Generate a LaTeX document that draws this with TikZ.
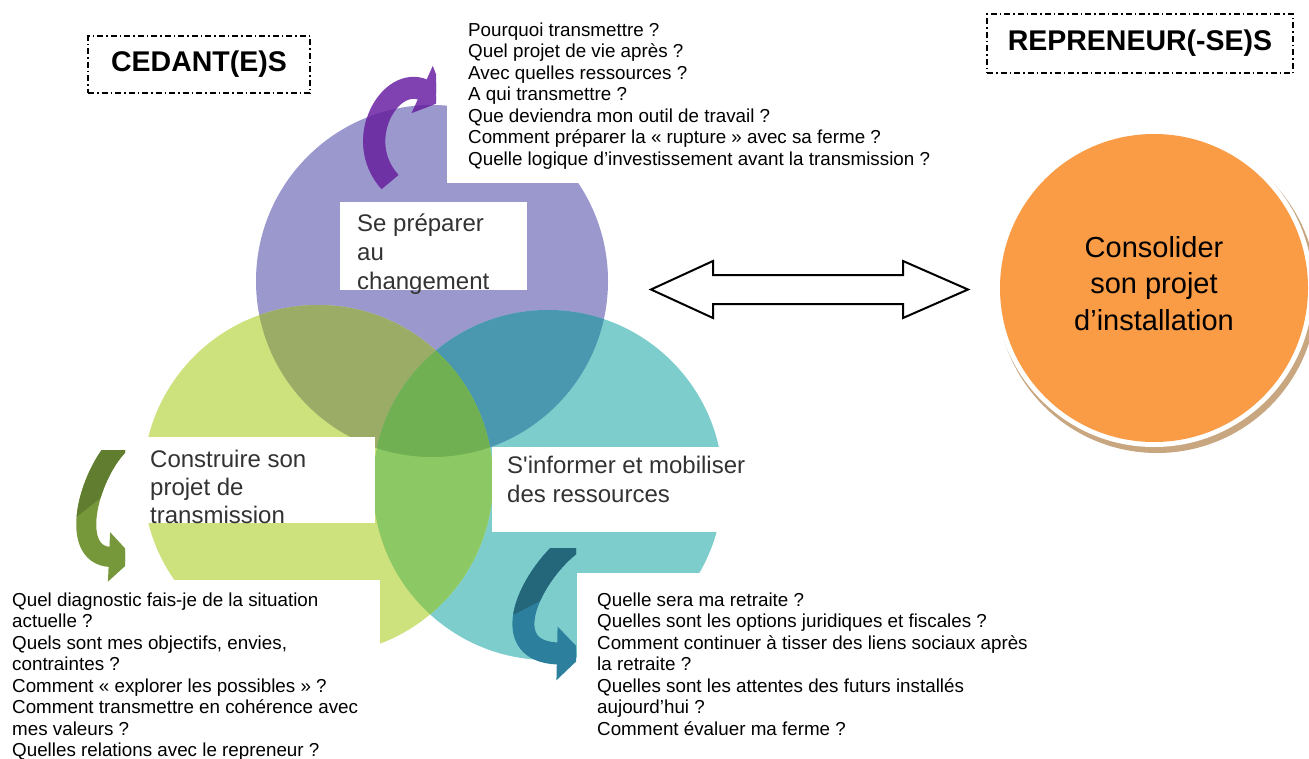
\documentclass[tikz,border=0pt]{standalone}
\usepackage{fontspec}
\setmainfont{Liberation Sans}
\usetikzlibrary{arrows.meta}
\definecolor{cpurple}{RGB}{155,152,205}
\definecolor{cgreen}{RGB}{205,225,125}
\definecolor{cteal}{RGB}{125,205,205}
\definecolor{cPG}{RGB}{155,172,102}
\definecolor{cPT}{RGB}{74,152,176}
\definecolor{cGT}{RGB}{140,200,100}
\definecolor{cPGT}{RGB}{112,176,82}
\definecolor{corange}{RGB}{250,155,70}
\definecolor{ctan}{RGB}{200,166,128}
\definecolor{arPl}{RGB}{127,66,176}
\definecolor{arPd}{RGB}{110,50,165}
\definecolor{arGd}{RGB}{96,125,48}
\definecolor{arGl}{RGB}{118,152,58}
\definecolor{arTd}{RGB}{36,102,122}
\definecolor{arTl}{RGB}{44,128,158}
\definecolor{lbl}{RGB}{50,50,50}
\begin{document}
\begin{tikzpicture}[x=1pt,y=-1pt,
  titlebox/.style={draw=black, line width=1.5pt, dash pattern=on 6pt off 3pt on 1.5pt off 3pt, inner sep=0pt, font=\fontsize{28.5}{34}\selectfont\bfseries},
  qtext/.style={anchor=base west, inner sep=0pt, font=\fontsize{18.8}{21.5}\selectfont, text=black},
  lbltext/.style={anchor=base west, inner sep=0pt, text=lbl},
  band/.style={line width=#1, line cap=butt},
]
\useasboundingbox (0,0) rectangle (1309,758);
\fill[white] (0,0) rectangle (1309,758);

% Venn circles
\def\Rp{176}\def\Rg{175}\def\Rt{175}
\coordinate (cP) at (432,281);
\coordinate (cG) at (318,480);
\coordinate (cT) at (548,485);
\fill[cpurple] (cP) circle[radius=\Rp];
\fill[cteal] (cT) circle[radius=\Rt];
\fill[cgreen] (cG) circle[radius=\Rg];
\begin{scope}
  \clip (cP) circle[radius=\Rp];
  \fill[cPG] (cG) circle[radius=\Rg];
  \fill[cPT] (cT) circle[radius=\Rt];
\end{scope}
\begin{scope}
  \clip (cG) circle[radius=\Rg];
  \fill[cGT] (cT) circle[radius=\Rt];
\end{scope}
\begin{scope}
  \clip (cP) circle[radius=\Rp];
  \clip (cG) circle[radius=\Rg];
  \fill[cPGT] (cT) circle[radius=\Rt];
\end{scope}

% white boxes
\fill[white] (447,0) rectangle (940,183);
\fill[white] (340,202) rectangle (527,290);
\fill[white] (128,437) rectangle (375,523);
\fill[white] (0,580) rectangle (380,758);
\fill[white] (492,447) rectangle (726,532);
\fill[white] (577,573) rectangle (1309,758);

% purple curved arrow
\begin{scope}
  \clip (300,0) rectangle (436,200);
  \draw[band=22pt, arPl, -{Triangle[length=26pt 0 0, width=50pt 0 0]}] (390,182) .. controls (352,140) and (390,75) .. (446,100);
  \clip (cP) circle[radius=\Rp];
  \draw[band=22pt, arPd, -{Triangle[length=26pt 0 0, width=50pt 0 0]}] (390,182) .. controls (352,140) and (390,75) .. (446,100);
\end{scope}
% green curved arrow
\begin{scope}
  \clip (0,450) rectangle (125,600);
  \draw[band=20pt, arGl, -{Triangle[length=25pt 0 0, width=48pt 0 0]}] (124,440) .. controls (90,468) and (66,555) .. (134,558);
  \clip (0,440) -- (130,440) -- (130,475) -- (75,518) -- (0,518) -- cycle;
  \draw[band=20pt, arGd, -{Triangle[length=25pt 0 0, width=48pt 0 0]}] (124,440) .. controls (90,468) and (66,555) .. (134,558);
\end{scope}
% teal curved arrow
\begin{scope}
  \clip (480,548) rectangle (576,700);
  \draw[band=22pt, arTl, -{Triangle[length=27pt 0 0, width=52pt 0 0]}] (580,538) .. controls (535,565) and (490,652) .. (584,654);
  \clip (480,530) -- (590,530) -- (590,575) -- (515,614) -- (480,614) -- cycle;
  \draw[band=22pt, arTd, -{Triangle[length=27pt 0 0, width=52pt 0 0]}] (580,538) .. controls (535,565) and (490,652) .. (584,654);
\end{scope}

% circle labels
\node[lbltext, font=\fontsize{24}{29}\selectfont] (lP) at (357,231)
  {\begin{tabular}[t]{@{}l@{}}Se préparer\\au\\changement\end{tabular}};
\node[lbltext, font=\fontsize{24}{28}\selectfont] (lG) at (150,467)
  {\begin{tabular}[t]{@{}l@{}}Construire son\\projet de\\transmission\end{tabular}};
\node[lbltext, font=\fontsize{24}{29}\selectfont] (lT) at (507,473)
  {\begin{tabular}[t]{@{}l@{}}S\textquotesingle informer et mobiliser\\des ressources\end{tabular}};

% questions
\node[qtext] (qTop) at (468,36) {\begin{tabular}[t]{@{}l@{}}
Pourquoi transmettre ?\\
Quel projet de vie après ?\\
Avec quelles ressources ?\\
A qui transmettre ?\\
Que deviendra mon outil de travail ?\\
Comment préparer la « rupture » avec sa ferme ?\\
Quelle logique d’investissement avant la transmission ?
\end{tabular}};
\node[qtext] (qLeft) at (12,606) {\begin{tabular}[t]{@{}l@{}}
Quel diagnostic fais-je de la situation\\
actuelle ?\\
Quels sont mes objectifs, envies,\\
contraintes ?\\
Comment « explorer les possibles » ?\\
Comment transmettre en cohérence avec\\
mes valeurs ?\\
Quelles relations avec le repreneur ?
\end{tabular}};
\node[qtext] (qRight) at (597,606) {\begin{tabular}[t]{@{}l@{}}
Quelle sera ma retraite ?\\
Quelles sont les options juridiques et fiscales ?\\
Comment continuer à tisser des liens sociaux après\\
la retraite ?\\
Quelles sont les attentes des futurs installés\\
aujourd’hui ?\\
Comment évaluer ma ferme ?
\end{tabular}};

% title boxes
\node[titlebox, minimum width=222pt, minimum height=57pt] (ced) at (199,64.5) {CEDANT(E)S};
\node[titlebox, minimum width=306pt, minimum height=59pt] (rep) at (1140,43.5) {REPRENEUR(-SE)S};

% orange circle with shadow
\fill[ctan] (1157,293) circle[radius=160];
\fill[white] (1154,288) circle[radius=159];
\node[circle, fill=corange, minimum size=308pt, inner sep=0pt] (orange) at (1154,288) {};
\node[anchor=base, inner sep=0pt, font=\fontsize{29}{36.5}\selectfont, text=black] (lO) at (1154,257)
  {\begin{tabular}[t]{@{}c@{}}Consolider\\son projet\\d’installation\end{tabular}};

% double block arrow
\draw[line width=2pt, line join=miter, fill=white] (651,289.5) -- (713,261) -- (713,275) -- (903,275) -- (903,261) -- (968,289.5) -- (903,318) -- (903,304) -- (713,304) -- (713,318) -- cycle;
\end{tikzpicture}
\end{document}
